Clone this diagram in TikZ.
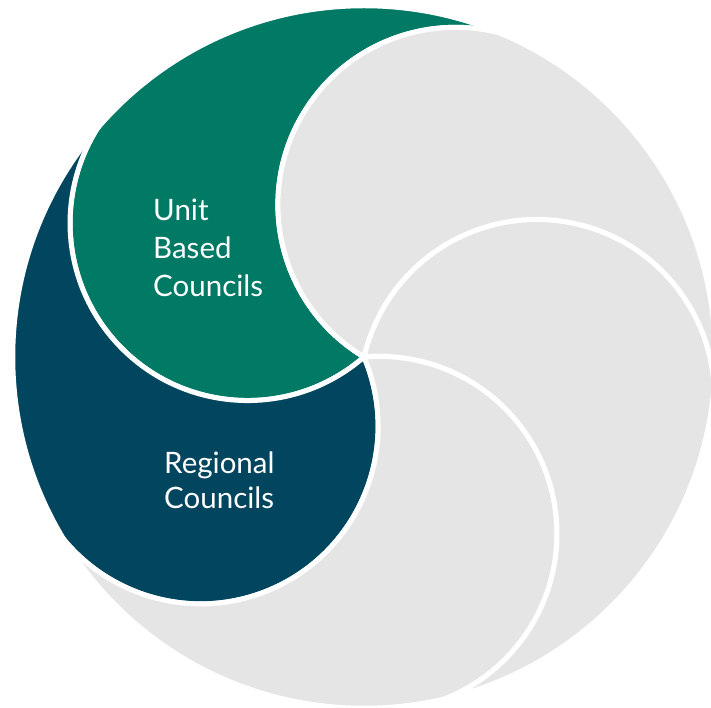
\documentclass[tikz,border=0pt]{standalone}
\usepackage{tikz}
\usepackage{xcolor}
\usepackage{fontspec}
\usetikzlibrary{calc}
\newfontfamily\councilfont{Lato}
\definecolor{ubcgreen}{RGB}{0,121,101}
\definecolor{rcnavy}{RGB}{2,69,94}
\definecolor{swirlgray}{RGB}{229,229,229}

\begin{document}
\begin{tikzpicture}[x=1pt, y=1pt,
    piece/.style={draw=white, line width=5pt, line join=round},
    council/.style={text=white, align=left, inner sep=0pt,
        font=\councilfont\fontsize{29.5}{38}\selectfont}]

            \useasboundingbox (0,0) rectangle (711,707);

            % Define the centre and the two radii
            \coordinate (C) at (364,350);
            \def\rbig{355}
            \def\rsmall{177.5}

            % Unit based councils, blob on the circle at 131 degrees
            \def\thetavala{59}
            \filldraw[piece, fill=ubcgreen] ($(C)+(\thetavala:\rbig)$)
                arc [start angle=\thetavala, end angle=\thetavala+72, radius=\rbig]
                arc [start angle=\thetavala+72, end angle=\thetavala+252, radius=\rsmall]
                arc [start angle=\thetavala+180, end angle=\thetavala, radius=\rsmall] -- cycle;

            % Regional councils, blob on the circle at 203 degrees
            \def\thetavalb{131}
            \filldraw[piece, fill=rcnavy] ($(C)+(\thetavalb:\rbig)$)
                arc [start angle=\thetavalb, end angle=\thetavalb+72, radius=\rbig]
                arc [start angle=\thetavalb+72, end angle=\thetavalb+252, radius=\rsmall]
                arc [start angle=\thetavalb+180, end angle=\thetavalb, radius=\rsmall] -- cycle;

            % The three grey pieces
            \def\thetavalc{203}
            \filldraw[piece, fill=swirlgray] ($(C)+(\thetavalc:\rbig)$)
                arc [start angle=\thetavalc, end angle=\thetavalc+72, radius=\rbig]
                arc [start angle=\thetavalc+72, end angle=\thetavalc+252, radius=\rsmall]
                arc [start angle=\thetavalc+180, end angle=\thetavalc, radius=\rsmall] -- cycle;

            \def\thetavald{275}
            \filldraw[piece, fill=swirlgray] ($(C)+(\thetavald:\rbig)$)
                arc [start angle=\thetavald, end angle=\thetavald+72, radius=\rbig]
                arc [start angle=\thetavald+72, end angle=\thetavald+252, radius=\rsmall]
                arc [start angle=\thetavald+180, end angle=\thetavald, radius=\rsmall] -- cycle;

            \def\thetavale{347}
            \filldraw[piece, fill=swirlgray] ($(C)+(\thetavale:\rbig)$)
                arc [start angle=\thetavale, end angle=\thetavale+72, radius=\rbig]
                arc [start angle=\thetavale+72, end angle=\thetavale+252, radius=\rsmall]
                arc [start angle=\thetavale+180, end angle=\thetavale, radius=\rsmall] -- cycle;

            % white rim, cuts the thin ends of the tails
            \draw[white, line width=12.5pt] (C) circle [radius=\rbig];

            % Labels, anchored on the baseline of their last line
            \node[council, anchor=base west] (ubc) at (153,410) {Unit\\Based\\Councils};
            \node[council, anchor=base west, font=\councilfont\fontsize{29.5}{35}\selectfont]
                (rc) at (164,199) {Regional\\Councils};

\end{tikzpicture}
\end{document}
